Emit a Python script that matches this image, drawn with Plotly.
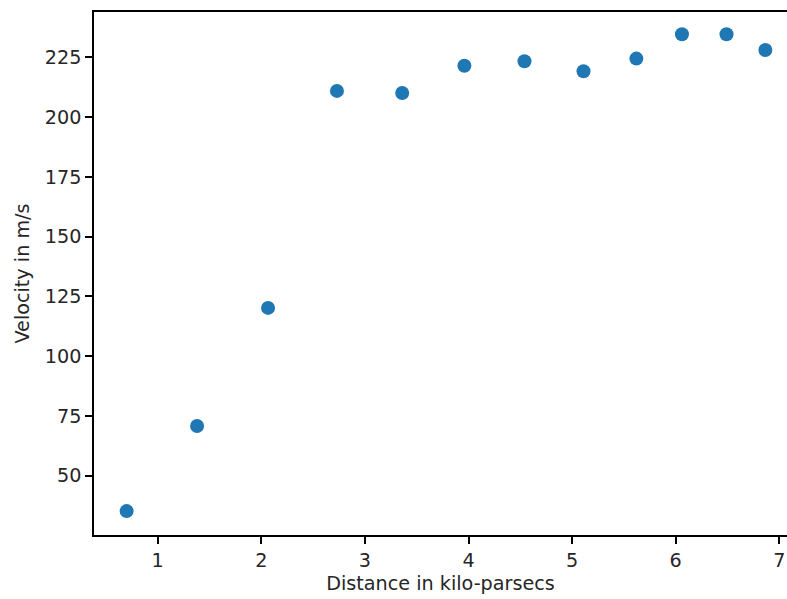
import plotly.graph_objects as go

distance_kpc = [0.70, 1.38, 2.065, 2.73, 3.36, 3.96, 4.54, 5.11, 5.62, 6.06, 6.49, 6.865]
velocity = [35.2, 70.8, 120.2, 211.0, 210.1, 221.5, 223.4, 219.2, 224.5, 234.7, 234.7, 228.1]

x_ticks = [1, 2, 3, 4, 5, 6, 7]
y_ticks = [50, 75, 100, 125, 150, 175, 200, 225]

FONT = dict(family="DejaVu Sans", size=19.2, color="#262626")

fig = go.Figure()
fig.add_trace(go.Scatter(
    x=distance_kpc, y=velocity, mode="markers",
    marker=dict(color="#1f77b4", size=14, line=dict(width=0)),
    showlegend=False,
))

axis_common = dict(
    showline=True, linecolor="black", linewidth=1.5,
    ticks="outside", ticklen=7, tickwidth=1.5, tickcolor="black",
    showgrid=False, zeroline=False,
    tickfont=FONT,
)

fig.update_layout(
    width=787, height=599,
    margin=dict(l=94, r=0, t=12, b=64),
    plot_bgcolor="white", paper_bgcolor="white",
    xaxis=dict(range=[0.385, 7.074], tickvals=x_ticks, mirror=True,
               title=dict(text="Distance in kilo-parsecs", standoff=6, font=FONT),
               **axis_common),
    yaxis=dict(range=[25.2, 244.0], tickvals=y_ticks, mirror=False,
               title=dict(text="Velocity in m/s", standoff=10, font=FONT),
               **axis_common),
)

fig.write_html("out.html")
